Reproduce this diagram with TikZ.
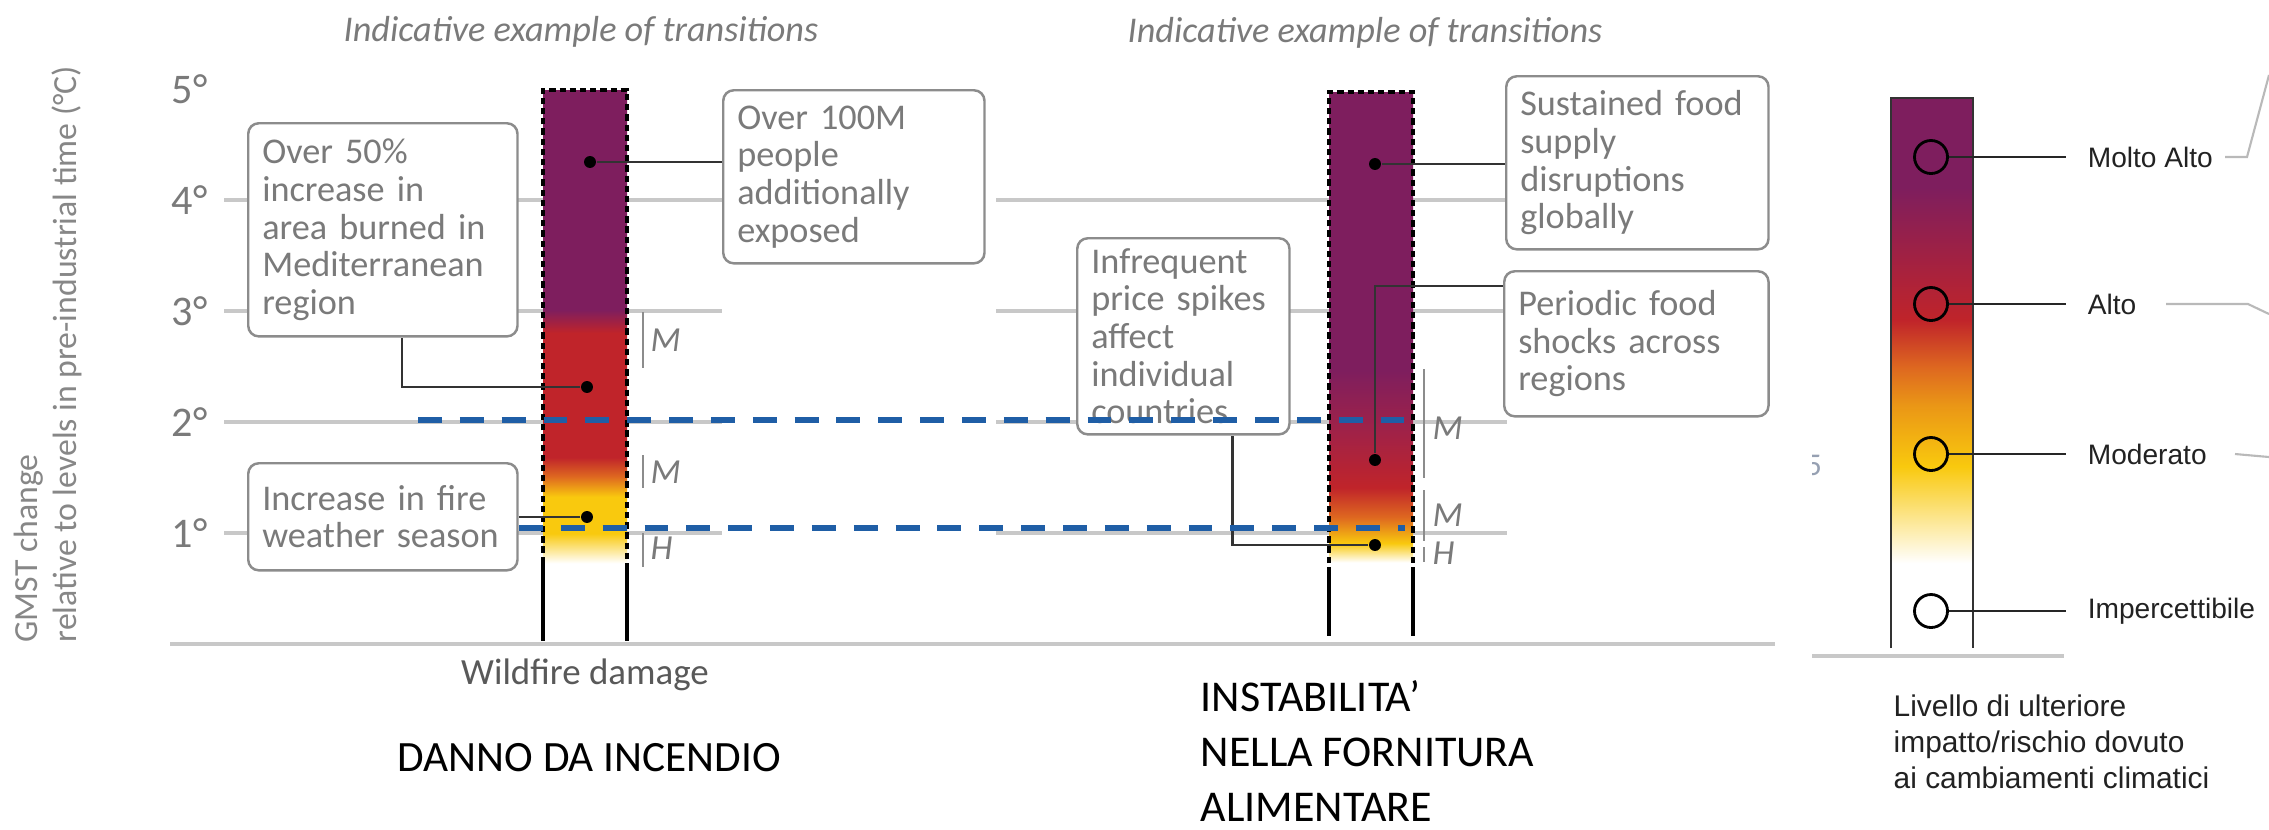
\documentclass[tikz,border=0pt]{standalone}
\usepackage{fontspec}
\setmainfont{Carlito}
\newfontfamily\legfont{Liberation Sans}
\usepackage{tikz}

\definecolor{purp}{RGB}{126,30,94}
\definecolor{firered}{RGB}{192,36,42}
\definecolor{burgundy}{RGB}{160,34,72}
\definecolor{orng}{RGB}{222,104,32}
\definecolor{amber}{RGB}{234,150,22}
\definecolor{yell}{RGB}{249,201,14}
\definecolor{gridgray}{RGB}{200,200,200}
\definecolor{boxgray}{RGB}{140,140,140}
\definecolor{txtgray}{RGB}{122,122,122}
\definecolor{dashblue}{RGB}{31,94,166}
\definecolor{legtxt}{RGB}{34,34,34}
\definecolor{fivegray}{RGB}{150,160,178}

% colour ramps of the bars, 25bp = bottom and 75bp = top of the filled path
\pgfdeclareverticalshading{wildfire}{100bp}{color(0bp)=(white); color(25.9bp)=(white); color(29bp)=(yell); color(32.8bp)=(yell); color(34.9bp)=(orng); color(36.9bp)=(firered); color(49.8bp)=(firered); color(52.2bp)=(purp); color(100bp)=(purp)}
\pgfdeclareverticalshading{foodsupply}{100bp}{color(0bp)=(white); color(26bp)=(white); color(28bp)=(yell); color(30.7bp)=(orng); color(33.8bp)=(firered); color(39.7bp)=(burgundy); color(46bp)=(purp); color(100bp)=(purp)}
\pgfdeclareverticalshading{legendbar}{100bp}{color(0bp)=(white); color(32.7bp)=(white); color(41.5bp)=(yell); color(47.1bp)=(amber); color(50.5bp)=(orng); color(54.8bp)=(firered); color(66.9bp)=(purp); color(100bp)=(purp)}

\begin{document}
\begin{tikzpicture}[x=0.01cm, y=-0.01cm,
	gridline/.style={draw=gridgray, line width=1pt},
	infobox/.style={draw=boxgray, line width=0.7pt, rounded corners=3pt, fill=white, anchor=north west, inner xsep=4pt, inner ysep=0pt, align=left, text=txtgray, font=\fontsize{10.3}{10.7}\selectfont},
	leaderdot/.style={circle, fill=black, inner sep=0pt, minimum size=3.4pt},
	leader/.style={draw=black!80, line width=0.7pt},
	barside/.style={line width=1.2pt, dash pattern=on 1.8pt off 1.1pt},
	barfoot/.style={line width=1.3pt},
	confline/.style={draw=boxgray, line width=0.7pt},
	conflabel/.style={anchor=west, inner sep=0pt, text=txtgray, font=\itshape\fontsize{10}{12}\selectfont},
	degreelabel/.style={anchor=east, inner sep=0pt, text=txtgray, font=\fontsize{12}{14}\selectfont},
	paneltitle/.style={anchor=west, inner sep=0pt, text=txtgray, font=\itshape\fontsize{10.3}{12}\selectfont},
	blueline/.style={draw=dashblue, line width=1.6pt, dash pattern=on 6.8pt off 5.1pt},
	legside/.style={draw=black!80, line width=0.6pt},
	legcirc/.style={circle, draw=black, line width=0.8pt, minimum size=0.33cm, inner sep=0pt},
	legline/.style={draw=black!85, line width=0.7pt},
	leglabel/.style={anchor=west, inner xsep=6pt, inner ysep=0pt, text=legtxt, font=\legfont\fontsize{8}{10}\selectfont},
	stub/.style={draw=gray!55, line width=0.6pt}]
	\path[fill=white, use as bounding box] (0,0) rectangle (2269,829);

	% axis
	\node[rotate=90, anchor=west, align=left, inner sep=0pt, text=txtgray!90, font=\fontsize{9.6}{11}\selectfont] (ytitle) at (48,643) {GMST change\\relative to levels in pre-industrial time (°C)};
	\foreach \t in {1,...,5}
		\node[degreelabel] (deg\t) at (208,{644-111*\t}) {\t°};
	\foreach \t in {1,...,4} {
		\draw[gridline] (224,{644-111*\t}) -- (722,{644-111*\t});
		\draw[gridline] (996,{644-111*\t}) -- (1507,{644-111*\t});
	}
	\draw[gridline] (170,644) -- (1775,644);

	\node[paneltitle] (title-fire) at (343,32) {Indicative example of transitions};
	\node[paneltitle] (title-food) at (1127,33) {Indicative example of transitions};

	% bars
	\shade[shading=wildfire] (543,90) rectangle (627,572);
	\draw[barside] (543,563) -- (543,90) -- (627,90) -- (627,563);
	\draw[barfoot] (543,563) -- (543,641) (627,563) -- (627,641);
	\shade[shading=foodsupply] (1329,92) rectangle (1413,572);
	\draw[barside] (1329,563) -- (1329,92) -- (1413,92) -- (1413,563);
	\draw[barfoot] (1329,567) -- (1329,636) (1413,567) -- (1413,636);

	% boxes
	\node[infobox, text width=2.41cm, minimum height=2.13cm] (burned) at (247,122) {Over 50\%\\increase in\\area burned in\\Mediterranean\\region};
	\node[infobox, text width=2.33cm, minimum height=1.73cm] (exposed) at (722,89) {Over 100M\\people\\additionally\\exposed};
	\node[infobox, text width=2.41cm, minimum height=1.07cm] (season) at (247,462) {Increase in fire\\weather season};
	\node[infobox, text width=1.84cm, minimum height=1.96cm] (spikes) at (1076,237) {Infrequent\\price spikes\\affect\\individual\\countries};
	\node[infobox, text width=2.34cm, minimum height=1.73cm] (sustained) at (1505,75) {Sustained food\\supply\\disruptions\\globally};
	\node[infobox, text width=2.36cm, minimum height=1.45cm] (periodic) at (1503,270) {Periodic food\\shocks across\\regions};

	% leaders
	\node[leaderdot] (d-exposed) at (590,162) {};
	\node[leaderdot] (d-burned) at (587,387) {};
	\node[leaderdot] (d-season) at (587,517) {};
	\node[leaderdot] (d-sustained) at (1375,164) {};
	\node[leaderdot] (d-periodic) at (1375,460) {};
	\node[leaderdot] (d-spikes) at (1375,545) {};
	\draw[leader] (d-exposed) -- (d-exposed -| exposed.west);
	\draw[leader] (d-burned) -| ([xshift=0.19cm]burned.south);
	\draw[leader] (d-season) -- (d-season -| season.east);
	\draw[leader] (d-sustained) -- (d-sustained -| sustained.west);
	\draw[leader] (d-periodic) |- ([yshift=-0.16cm]periodic.north west);
	\draw[leader] (d-spikes) -| ([xshift=0.49cm]spikes.south);

	% confidence
	\draw[confline] (643,312) -- (643,368);
	\node[conflabel] (conf-m1) at (650,340) {M};
	\draw[confline] (643,455) -- (643,488);
	\node[conflabel] (conf-m2) at (650,472) {M};
	\draw[confline] (643,533) -- (643,567);
	\node[conflabel] (conf-h1) at (650,548) {H};
	\draw[confline] (1424,369) -- (1424,478);
	\node[conflabel] (conf-m3) at (1432,428) {M};
	\draw[confline] (1424,490) -- (1424,541);
	\node[conflabel] (conf-m4) at (1432,515) {M};
	\draw[confline] (1424,547) -- (1424,562);
	\node[conflabel] (conf-h2) at (1432,553) {H};

	% warming levels
	\coordinate (warm2w) at (418,420);
	\coordinate (warm2e) at (1415,420);
	\coordinate (warm1w) at (519,528);
	\coordinate (warm1e) at (1405,528);
	\draw[blueline] (warm2w) -- (warm2e);
	\draw[blueline] (warm1w) -- (warm1e);

	\node[text=black!65, font=\fontsize{10.5}{12}\selectfont] (fire-name) at (585,675) {Wildfire damage};
	\node[anchor=west, inner sep=0pt, font=\fontsize{12.3}{15}\selectfont] (danno) at (397,758) {DANNO DA INCENDIO};
	\node[anchor=north west, inner sep=0pt, align=left, font=\fontsize{12.5}{15.6}\selectfont] (instab) at (1200,680) {INSTABILITA’\\NELLA FORNITURA\\ALIMENTARE};

	% legend
	\begin{scope}
		\clip (1812,440) rectangle (1850,490);
		\node[inner sep=0pt, text=fivegray, font=\fontsize{9}{10}\selectfont] (cut5) at (1814,465) {5};
	\end{scope}
	\shade[shading=legendbar] (1891,98) rectangle (1973,648);
	\draw[legside] (1891,648) -- (1891,98) -- (1973,98) -- (1973,648);
	\draw[gridline] (1812,656) -- (2064,656);
	\foreach \y/\lab/\nm in {157/Molto Alto/vhigh, 304/Alto/high, 454/Moderato/moderate, 611/Impercettibile/undetect} {
		\node[legcirc] (c-\nm) at (1931,\y) {};
		\node[leglabel] (l-\nm) at (2066,\y) {\lab};
		\draw[legline] (c-\nm) -- (l-\nm);
	}
	\node[anchor=north west, inner sep=0pt, align=left, text=legtxt, font=\legfont\fontsize{8.5}{10.3}\selectfont] (caption) at (1893,694) {Livello di ulteriore\\impatto/rischio dovuto\\ai cambiamenti climatici};
	\draw[stub] (2225,157) -- (2247,157) -- (2269,75);
	\draw[stub] (2166,304) -- (2248,304) -- (2269,314);
	\draw[stub] (2235,454) -- (2269,457);
\end{tikzpicture}
\end{document}
